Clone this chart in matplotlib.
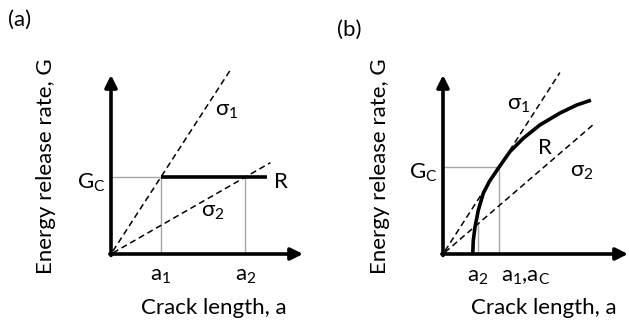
import numpy as np
import matplotlib.pyplot as plt

plt.rcParams['font.family'] = ['Lato', 'DejaVu Sans']
plt.rcParams['mathtext.fontset'] = 'custom'
plt.rcParams['mathtext.rm'] = 'Lato'
plt.rcParams['mathtext.default'] = 'regular'

FS = 16

# panel (a): flat R-curve
a1_a = 0.26
a2_a = 0.70
Gc_a = 0.43
R_end_a = 0.81
s1_end_a = 0.62
s2_end_a = 0.83

# panel (b): rising R-curve
R_x = [0.155, 0.158, 0.167, 0.184, 0.210, 0.241, 0.288, 0.349, 0.418, 0.505, 0.609, 0.696, 0.762]
R_G = [0.004, 0.078, 0.152, 0.245, 0.339, 0.404, 0.479, 0.572, 0.646, 0.721, 0.787, 0.832, 0.856]
ac_b = 0.292
Gc_b = 0.486
a2_b = 0.182
G2_b = 0.168
s1_end_b = 0.609
s2_end_b = 0.783

fig = plt.figure(figsize=(6.29, 3.24), dpi=100)
axa = fig.add_axes([111 / 629, 70 / 324, 192 / 629, 179 / 324])
axb = fig.add_axes([443 / 629, 70 / 324, 185 / 629, 179 / 324])


def frame(ax, xmax):
    ax.set_xlim(0, xmax)
    ax.set_ylim(0, 1)
    ax.axis('off')
    kw = dict(arrowstyle='-|>,head_length=0.6,head_width=0.3', lw=2.6, color='k',
              shrinkA=0, shrinkB=0, mutation_scale=12)
    ax.annotate('', xy=(xmax, 0), xytext=(-0.006, 0), arrowprops=kw, annotation_clip=False)
    ax.annotate('', xy=(0, 1), xytext=(0, -0.008), arrowprops=kw, annotation_clip=False)
    ax.text(-0.34, 0.49, 'Energy release rate, G', rotation=90, ha='center', va='center',
            fontsize=FS, transform=ax.transAxes)


gray = dict(color='#a6a6a6', lw=1.0, zorder=1)
dash = dict(color='k', lw=1.1, ls=(0, (4, 2.5)), zorder=2, clip_on=False)

# (a)
frame(axa, 1.0)
axa.plot([0, a1_a], [Gc_a, Gc_a], **gray)
axa.plot([a1_a, a1_a], [0, Gc_a], **gray)
axa.plot([a2_a, a2_a], [0, Gc_a], **gray)
xs = np.array([0.01, s1_end_a])
axa.plot(xs, Gc_a / a1_a * xs, **dash)
xs = np.array([0.01, s2_end_a])
axa.plot(xs, Gc_a / a2_a * xs, **dash)
axa.plot([a1_a, R_end_a], [Gc_a, Gc_a], color='k', lw=2.6, solid_capstyle='butt', zorder=3)
axa.text(0.60, 0.80, 'σ$_1$', fontsize=FS, ha='center', va='center')
axa.text(0.53, 0.235, 'σ$_2$', fontsize=FS, ha='center', va='center')
axa.text(0.885, 0.40, 'R', fontsize=FS, ha='center', va='center')
axa.text(-0.03, Gc_a - 0.03, 'G$_C$', fontsize=FS, ha='right', va='center')
axa.text(a1_a, -0.125, 'a$_1$', fontsize=FS, ha='center', va='center')
axa.text(a2_a, -0.125, 'a$_2$', fontsize=FS, ha='center', va='center')
axa.text(0.536, -0.30, 'Crack length, a', fontsize=FS, ha='center', va='center',
         transform=axa.transAxes)

# (b)
frame(axb, 0.964)
axb.plot([0, ac_b], [Gc_b, Gc_b], **gray)
axb.plot([ac_b, ac_b], [0, Gc_b], **gray)
axb.plot([a2_b, a2_b], [0, G2_b], **gray)
xs = np.array([0.01, s1_end_b])
axb.plot(xs, Gc_b / ac_b * xs, **dash)
xs = np.array([0.01, s2_end_b])
axb.plot(xs, G2_b / a2_b * xs, **dash)
axb.plot(R_x, R_G, color='k', lw=2.6, zorder=3)
axb.text(0.396, 0.83, 'σ$_1$', fontsize=FS, ha='center', va='center')
axb.text(0.53, 0.59, 'R', fontsize=FS, ha='center', va='center')
axb.text(0.724, 0.46, 'σ$_2$', fontsize=FS, ha='center', va='center')
axb.text(-0.03, Gc_b - 0.03, 'G$_C$', fontsize=FS, ha='right', va='center')
axb.text(a2_b, -0.13, 'a$_2$', fontsize=FS, ha='center', va='center')
axb.text(ac_b + 0.01, -0.13, 'a$_1$,a$_C$', fontsize=FS, ha='left', va='center')
axb.text(0.546, -0.30, 'Crack length, a', fontsize=FS, ha='center', va='center',
         transform=axb.transAxes)

fig.text(20 / 629, 1 - 20 / 324, '(a)', fontsize=FS, ha='center', va='center')
fig.text(349 / 629, 1 - 30 / 324, '(b)', fontsize=FS, ha='center', va='center')

fig.savefig('out.png', dpi=100)
